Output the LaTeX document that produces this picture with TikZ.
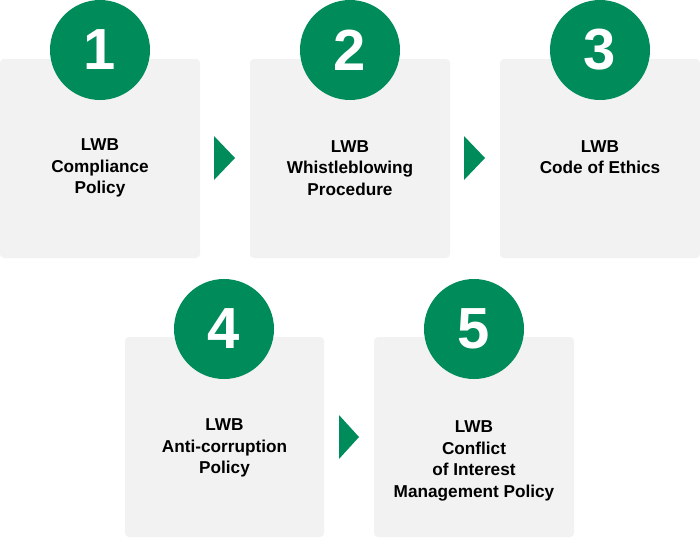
\documentclass[tikz,border=0pt]{standalone}
\usepackage{fontspec}
\setmainfont{Liberation Sans}
\usetikzlibrary{calc}
\definecolor{lwbgreen}{RGB}{0,140,90}
\definecolor{boxgray}{RGB}{242,242,242}
\begin{document}
\begin{tikzpicture}[x=1pt,y=-1pt,
  stepbox/.style={fill=boxgray,rounded corners=4pt},
  numcircle/.style={circle,fill=lwbgreen,minimum size=100pt,inner sep=0pt,text=white,font=\fontsize{58}{58}\selectfont\bfseries},
  label/.style={align=center,font=\fontsize{17.2}{21.5}\selectfont\bfseries,text=black,inner sep=0pt},
  tri/.style={fill=lwbgreen}]
\useasboundingbox (0,0) rectangle (700,538);
% boxes
\fill[stepbox] (0,59) rectangle (200,258);
\fill[stepbox] (250,59) rectangle (450,258);
\fill[stepbox] (500,59) rectangle (700,258);
\fill[stepbox] (125,337) rectangle (324,537);
\fill[stepbox] (374,337) rectangle (574,537);
% circles
\node[numcircle] (c1) at (100,50) {1};
\node[numcircle] (c2) at (350,50) {2};
\node[numcircle] (c3) at (600,50) {3};
\node[numcircle] (c4) at (224,329) {4};
\node[numcircle] (c5) at (474,329) {5};
% labels
\node[label] (t1) at (100,168) {LWB\\Compliance\\Policy};
\node[label] (t2) at (350,168) {LWB\\Whistleblowing\\Procedure};
\node[label] (t3) at (600,157) {LWB\\Code of Ethics};
\node[label] (t4) at (224.5,448) {LWB\\Anti-corruption\\Policy};
\node[label] (t5) at (474,461) {LWB\\Conflict\\of Interest\\Management Policy};
% arrows
\fill[tri] (214,136) -- (235,158) -- (214,180) -- cycle;
\fill[tri] (464,136) -- (485,158) -- (464,180) -- cycle;
\fill[tri] (339,415) -- (359,437) -- (339,459) -- cycle;
\end{tikzpicture}
\end{document}
